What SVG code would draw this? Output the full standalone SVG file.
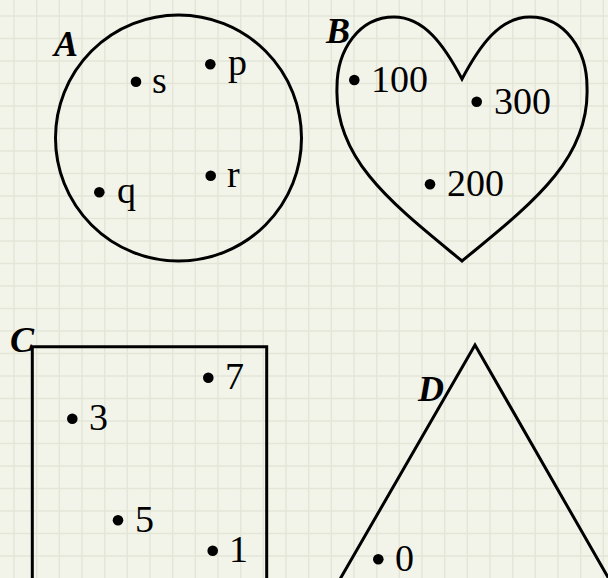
<svg xmlns="http://www.w3.org/2000/svg" width="608" height="578" viewBox="0 0 608 578">
<style>
.grid{stroke:#e3e5d8;stroke-width:1.4;fill:none}
.shape{fill:none;stroke:#000;stroke-width:3;stroke-linejoin:miter}
.dot{fill:#000}
.t{font-family:"Liberation Serif","Times New Roman",serif;font-size:38px;fill:#000}
.lbl{font-family:"Liberation Serif","Times New Roman",serif;font-size:36px;font-weight:bold;font-style:italic;fill:#000}
</style>
<rect width="608" height="578" fill="#f3f4e9"/>
<path class="grid" d="M14 0V578M36.67 0V578M59.33 0V578M82 0V578M104.67 0V578M127.33 0V578M150 0V578M172.67 0V578M195.33 0V578M218 0V578M240.67 0V578M263.33 0V578M286 0V578M308.67 0V578M331.33 0V578M354 0V578M376.67 0V578M399.33 0V578M422 0V578M444.67 0V578M467.33 0V578M490 0V578M512.67 0V578M535.33 0V578M558 0V578M580.67 0V578M603.33 0V578M0 16H608M0 38.5H608M0 61H608M0 83.5H608M0 106H608M0 128.5H608M0 151H608M0 173.5H608M0 196H608M0 218.5H608M0 241H608M0 263.5H608M0 286H608M0 308.5H608M0 331H608M0 353.5H608M0 376H608M0 398.5H608M0 421H608M0 443.5H608M0 466H608M0 488.5H608M0 511H608M0 533.5H608M0 556H608"/>
<g id="setA">
<circle class="shape" cx="178.5" cy="138" r="123"/>
<text class="lbl" x="54" y="56">A</text>
<circle class="dot" cx="136" cy="81.7" r="5.3"/><text class="t" x="152" y="92.7">s</text>
<circle class="dot" cx="210.3" cy="64.3" r="5.3"/><text class="t" x="228" y="75.3">p</text>
<circle class="dot" cx="210.7" cy="175.7" r="5.3"/><text class="t" x="227" y="186.7">r</text>
<circle class="dot" cx="99.3" cy="192.3" r="5.3"/><text class="t" x="117" y="203.3">q</text>
</g>
<g id="setB">
<path class="shape" d="M462 79C480 45 500 17 530 17C565 17 587 50 587 87C590 160 530 205 462 261C394 205 334 160 337 87C337 50 359 17 394 17C424 17 444 45 462 79Z"/>
<text class="lbl" x="326" y="42.7">B</text>
<circle class="dot" cx="354.3" cy="80" r="5.3"/><text class="t" x="371" y="92">100</text>
<circle class="dot" cx="476.7" cy="101.7" r="5.3"/><text class="t" x="494" y="113.5">300</text>
<circle class="dot" cx="430" cy="184.3" r="5.3"/><text class="t" x="447" y="196.2">200</text>
</g>
<g id="setC">
<path class="shape" d="M32.3 590V346.7H266.7V590"/>
<text class="lbl" x="10" y="352">C</text>
<circle class="dot" cx="208.3" cy="377.7" r="5.3"/><text class="t" x="225" y="389">7</text>
<circle class="dot" cx="72.3" cy="418.7" r="5.3"/><text class="t" x="89" y="430.3">3</text>
<circle class="dot" cx="118" cy="520.3" r="5.3"/><text class="t" x="135" y="532">5</text>
<circle class="dot" cx="212.7" cy="550.7" r="5.3"/><text class="t" x="229" y="562.4">1</text>
</g>
<g id="setD">
<path class="shape" d="M328 600L475 345L621 600"/>
<text class="lbl" x="418" y="401">D</text>
<circle class="dot" cx="378.3" cy="559.3" r="5.3"/><text class="t" x="395" y="571">0</text>
</g>
<g id="connectors"/>
</svg>
